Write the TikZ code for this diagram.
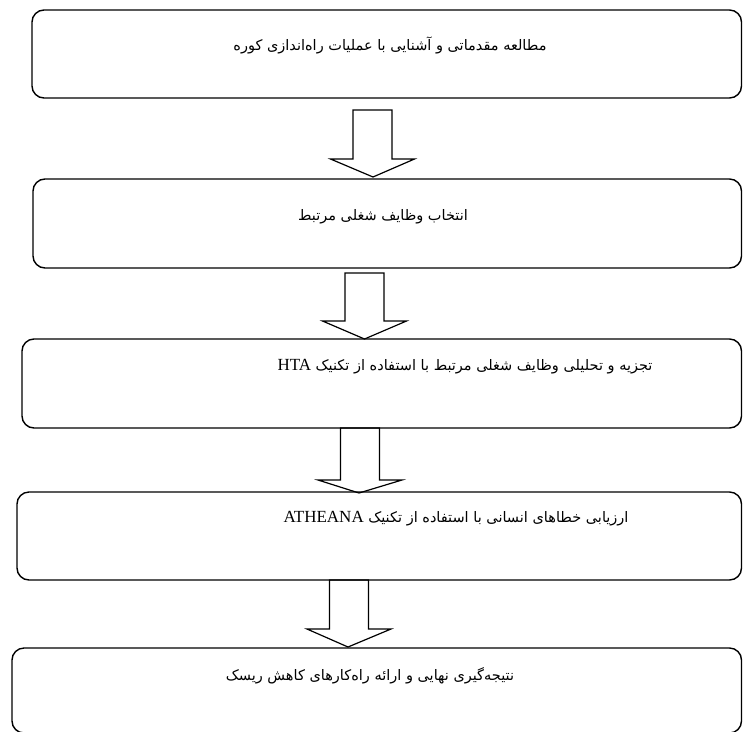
\documentclass[tikz,border=0pt]{standalone}
\usepackage{fontspec}
\usetikzlibrary{calc}
\TeXXeTstate=1
\newfontfamily\fafont[Script=Arabic]{DejaVu Sans}
\newfontfamily\enfont{Liberation Serif}
\newcommand{\latinpart}[1]{\beginL{\enfont\fontsize{17}{19}\selectfont #1}\endL}

\tikzset{
  stepbox/.style={draw, line width=1.4pt, rounded corners=12pt, inner sep=0pt},
  steptext/.style={font=\fafont\fontsize{14.5}{17}\selectfont, inner sep=0pt},
  hollow/.style={draw, line width=1.2pt, to path={
    let \p1=(\tikztostart), \p2=(\tikztotarget) in
    (\x1-19.5pt,\y1) -- (\x1+19.5pt,\y1) -- (\x1+19.5pt,\y2+#1)
    -- (\x1+42pt,\y2+#1) -- (\x2,\y2) -- (\x1-42pt,\y2+#1)
    -- (\x1-19.5pt,\y2+#1) -- cycle}},
  hollow/.default=18pt
}

\begin{document}
\begin{tikzpicture}[x=1pt,y=-1pt]
\useasboundingbox (0,0) rectangle (743,731);

% boxes
\node[stepbox, minimum width=709.5pt, minimum height=88pt] (b1) at (386.75,54) {};
\node[stepbox, minimum width=708.5pt, minimum height=89pt] (b2) at (387.25,223.5) {};
\node[stepbox, minimum width=719.5pt, minimum height=89pt] (b3) at (381.75,383.5) {};
\node[stepbox, minimum width=724.5pt, minimum height=88pt] (b4) at (379.25,536) {};
\node[stepbox, minimum width=729.5pt, minimum height=85pt] (b5) at (376.75,690.5) {};

% texts
\node[steptext] (t1) at (390,45) {\beginR مطالعه مقدماتی و آشنایی با عملیات راه‌اندازی کوره\endR};
\node[steptext] (t2) at (383,217) {\beginR انتخاب وظایف شغلی مرتبط\endR};
\node[steptext] (t3) at (465,367) {\beginR تجزیه و تحلیلی وظایف شغلی مرتبط با استفاده از تکنیک \latinpart{HTA}\endR};
\node[steptext] (t4) at (456,519) {\beginR ارزیابی خطاهای انسانی با استفاده از تکنیک \latinpart{ATHEANA}\endR};
\node[steptext] (t5) at (370,676) {\beginR نتیجه‌گیری نهایی و ارائه راه‌کارهای کاهش ریسک\endR};

% arrows
\coordinate (a1) at (372.5,110);
\coordinate (a1e) at (373,177);
\coordinate (a2) at (364.5,273);
\coordinate (a2e) at (364.5,339);
\coordinate (a3) at (360,428);
\coordinate (a3e) at (359,493);
\coordinate (a4) at (349,580);
\coordinate (a4e) at (348,647);

\draw[hollow] (a1) to (a1e);
\draw[hollow] (a2) to (a2e);
\draw[hollow=13pt] (a3) to (a3e);
\draw[hollow] (a4) to (a4e);
\end{tikzpicture}
\end{document}
